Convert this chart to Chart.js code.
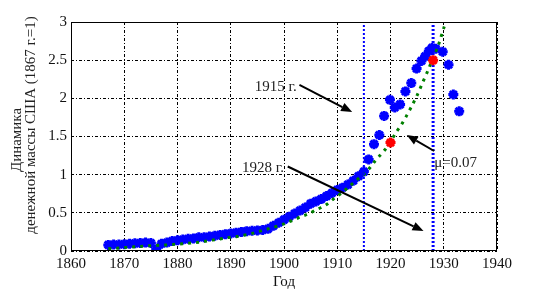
<!DOCTYPE html>
<html>
<head>
<meta charset="utf-8">
<script src="https://cdn.jsdelivr.net/npm/chart.js@4.4.0/dist/chart.umd.min.js"></script>
<style>
  html, body { margin: 0; padding: 0; background: #ffffff; }
</style>
</head>
<body>
<canvas id="myChart" width="549" height="293"></canvas>
<script>
// Data block
// money supply, dense part (1867 - 1915)
const denseYears = [1867, 1868, 1869, 1870, 1871, 1872, 1873, 1874, 1875, 1876,
  1877, 1878, 1879, 1880, 1881, 1882, 1883, 1884, 1885, 1886,
  1887, 1888, 1889, 1890, 1891, 1892, 1893, 1894, 1895, 1896,
  1897, 1898, 1899, 1900, 1901, 1902, 1903, 1904, 1905, 1906,
  1907, 1908, 1909, 1910, 1911, 1912, 1913, 1914, 1915];
const denseValues = [0.08, 0.085, 0.085, 0.09, 0.095, 0.10, 0.105, 0.11, 0.105, 0.02,
  0.095, 0.11, 0.13, 0.14, 0.15, 0.16, 0.165, 0.18, 0.18, 0.19,
  0.20, 0.21, 0.22, 0.23, 0.24, 0.25, 0.26, 0.265, 0.27, 0.275,
  0.29, 0.33, 0.37, 0.41, 0.45, 0.49, 0.53, 0.57, 0.62, 0.65,
  0.68, 0.72, 0.76, 0.80, 0.83, 0.87, 0.92, 0.98, 1.04];

// after 1915
const lateYears = [1915.9, 1916.9, 1917.9, 1918.8, 1919.9, 1920.8, 1921.8, 1922.8, 1923.9,
  1924.9, 1925.8, 1926.5, 1927.2, 1927.8, 1928.5, 1929.8, 1930.9, 1931.8, 1932.9];
const lateValues = [1.20, 1.40, 1.52, 1.77, 1.98, 1.88, 1.92, 2.09, 2.20,
  2.39, 2.49, 2.55, 2.62, 2.66, 2.65, 2.61, 2.44, 2.05, 1.83];

// exponential fit (green dotted)
const fitYears = [1867, 1868, 1869, 1870, 1871, 1872, 1873, 1874, 1875, 1876,
  1877, 1878, 1879, 1880, 1881, 1882, 1883, 1884, 1885, 1886,
  1887, 1888, 1889, 1890, 1891, 1892, 1893, 1894, 1895, 1896,
  1897, 1898, 1899, 1900, 1901, 1902, 1903, 1904, 1905, 1906,
  1907, 1908, 1909, 1910, 1911, 1912, 1913, 1914, 1915, 1916,
  1917, 1918, 1919, 1920, 1921, 1922, 1923, 1924, 1925, 1926,
  1927, 1928, 1929, 1930, 1931];
const fitValues = [0.03, 0.035, 0.04, 0.045, 0.05, 0.055, 0.06, 0.065, 0.07, 0.072,
  0.076, 0.08, 0.085, 0.09, 0.095, 0.10, 0.107, 0.115, 0.125, 0.137,
  0.148, 0.158, 0.17, 0.18, 0.188, 0.20, 0.215, 0.23, 0.25, 0.27,
  0.29, 0.31, 0.33, 0.355, 0.385, 0.41, 0.445, 0.47, 0.50, 0.54,
  0.57, 0.61, 0.665, 0.72, 0.77, 0.83, 0.89, 0.95, 1.0, 1.08,
  1.17, 1.25, 1.33, 1.43, 1.55, 1.65, 1.77, 1.90, 2.04, 2.20,
  2.36, 2.53, 2.70, 2.92, 3.12];

// red marks the fit goes through
const markYears = [1920, 1928];
const markValues = [1.42, 2.5];

// vertical dotted lines
const breakYears = [1915, 1928];

const xTicks = [1860, 1870, 1880, 1890, 1900, 1910, 1920, 1930, 1940];
const yTicks = [0, 0.5, 1, 1.5, 2, 2.5, 3];

// annotations (data units)
const notes = [
  { text: "1915 г.", x: 1902.4, y: 2.096, align: "right", from: [1902.9, 2.175], to: [1912.8, 1.82] },
  { text: "1928 г.", x: 1900.0, y: 1.035, align: "right", from: [1900.7, 1.107], to: [1926.2, 0.262] },
  { text: "μ=0.07", x: 1928.2, y: 1.094, align: "left", from: [1928.2, 1.31], to: [1923.05, 1.52] },
];

function pairs(xs, ys) {
  return xs.map((x, i) => ({ x: x, y: ys[i] }));
}

const FONT = "Liberation Serif";

// frame, arrows, labels
const extras = {
  id: "extras",
  afterDatasetsDraw(chart) {
    const { ctx, chartArea: { left, right, top, bottom }, scales: { x, y } } = chart;
    ctx.save();
    ctx.strokeStyle = "#000";
    ctx.lineWidth = 1;
    ctx.strokeRect(left + 0.5, top + 0.5, right - left - 1, bottom - top - 1);

    notes.forEach((n) => {
      const x0 = x.getPixelForValue(n.from[0]);
      const y0 = y.getPixelForValue(n.from[1]);
      const x1 = x.getPixelForValue(n.to[0]);
      const y1 = y.getPixelForValue(n.to[1]);
      const a = Math.atan2(y1 - y0, x1 - x0);
      const len = 11, half = 4.5;
      const bx = x1 - len * Math.cos(a), by = y1 - len * Math.sin(a);
      ctx.strokeStyle = "#000";
      ctx.lineWidth = 2;
      ctx.beginPath();
      ctx.moveTo(x0, y0);
      ctx.lineTo(bx, by);
      ctx.stroke();
      ctx.fillStyle = "#000";
      ctx.beginPath();
      ctx.moveTo(x1, y1);
      ctx.lineTo(bx + half * Math.sin(a), by - half * Math.cos(a));
      ctx.lineTo(bx - half * Math.sin(a), by + half * Math.cos(a));
      ctx.closePath();
      ctx.fill();

      ctx.font = "15px '" + FONT + "'";
      ctx.textAlign = n.align;
      ctx.textBaseline = "alphabetic";
      ctx.fillStyle = "#222";
      ctx.fillText(n.text, x.getPixelForValue(n.x), y.getPixelForValue(n.y));
    });

    // y axis title, two lines
    ctx.font = "15px '" + FONT + "'";
    ctx.fillStyle = "#222";
    ctx.textAlign = "center";
    ctx.textBaseline = "middle";
    ctx.save();
    ctx.translate(17, 140);
    ctx.rotate(-Math.PI / 2);
    ctx.fillText("Динамика", 0, 0);
    ctx.restore();
    ctx.save();
    ctx.translate(31.5, 125);
    ctx.rotate(-Math.PI / 2);
    ctx.fillText("денежной массы США (1867 г.=1)", 0, 0);
    ctx.restore();
    ctx.restore();
  },
};

function mainChart() {
  const starPoint = {
    showLine: false,
    pointStyle: "star",
    pointRadius: 5,
    pointBorderWidth: 3,
    pointHoverRadius: 5,
  };

  const data = {
    datasets: [
      Object.assign({}, starPoint, {
        label: "marks",
        data: pairs(markYears, markValues),
        borderColor: "#ff0000",
        backgroundColor: "#ff0000",
        order: 0,
      }),
      {
        label: "1915",
        data: [{ x: breakYears[0], y: yTicks[0] }, { x: breakYears[0], y: yTicks[yTicks.length - 1] }],
        borderColor: "#0000ff",
        borderWidth: 2,
        borderDash: [2, 2],
        pointRadius: 0,
        order: 1,
      },
      {
        label: "1928",
        data: [{ x: breakYears[1], y: yTicks[0] }, { x: breakYears[1], y: yTicks[yTicks.length - 1] }],
        borderColor: "#0000ff",
        borderWidth: 3,
        borderDash: [2, 2],
        pointRadius: 0,
        order: 1,
      },
      {
        label: "fit",
        data: pairs(fitYears, fitValues),
        borderColor: "#008000",
        borderWidth: 3,
        borderDash: [3, 5],
        borderCapStyle: "butt",
        pointRadius: 0,
        tension: 0.3,
        order: 2,
      },
      Object.assign({}, starPoint, {
        label: "late",
        data: pairs(lateYears, lateValues),
        borderColor: "#0000ff",
        backgroundColor: "#0000ff",
        order: 3,
      }),
      Object.assign({}, starPoint, {
        label: "dense",
        data: pairs(denseYears, denseValues),
        borderColor: "#0000ff",
        backgroundColor: "#0000ff",
        order: 3,
      }),
    ],
  };

  const config = {
    type: "line",
    data: data,
    plugins: [extras],
    options: {
      responsive: false,
      animation: false,
      devicePixelRatio: 1,
      layout: { padding: { top: 22, right: 52, left: 0, bottom: 0 } },
      plugins: {
        legend: { display: false },
        tooltip: { enabled: false },
      },
      scales: {
        x: {
          type: "linear",
          min: xTicks[0],
          max: xTicks[xTicks.length - 1],
          afterFit: (scale) => { scale.height = 42; },
          afterBuildTicks: (scale) => { scale.ticks = xTicks.map((v) => ({ value: v })); },
          grid: { color: "#000", lineWidth: 1, drawTicks: false },
          border: { display: false, dash: [3, 2, 1, 2] },
          ticks: {
            color: "#111",
            font: { family: FONT, size: 15 },
            padding: 4,
            maxRotation: 0,
            callback: (v) => String(v),
          },
          title: {
            display: true,
            text: "Год",
            color: "#111",
            font: { family: FONT, size: 15 },
            padding: { top: 0, bottom: 2 },
          },
        },
        y: {
          type: "linear",
          min: yTicks[0],
          max: yTicks[yTicks.length - 1],
          afterFit: (scale) => { scale.width = 71; },
          afterBuildTicks: (scale) => { scale.ticks = yTicks.map((v) => ({ value: v })); },
          grid: { color: "#000", lineWidth: 1, drawTicks: false },
          border: { display: false, dash: [3, 2, 1, 2] },
          ticks: {
            color: "#111",
            font: { family: FONT, size: 15 },
            padding: 4,
            callback: (v) => String(v),
          },
        },
      },
    },
  };

  const myChart = new Chart(document.getElementById("myChart"), config);
}

mainChart();
</script>
</body>
</html>
